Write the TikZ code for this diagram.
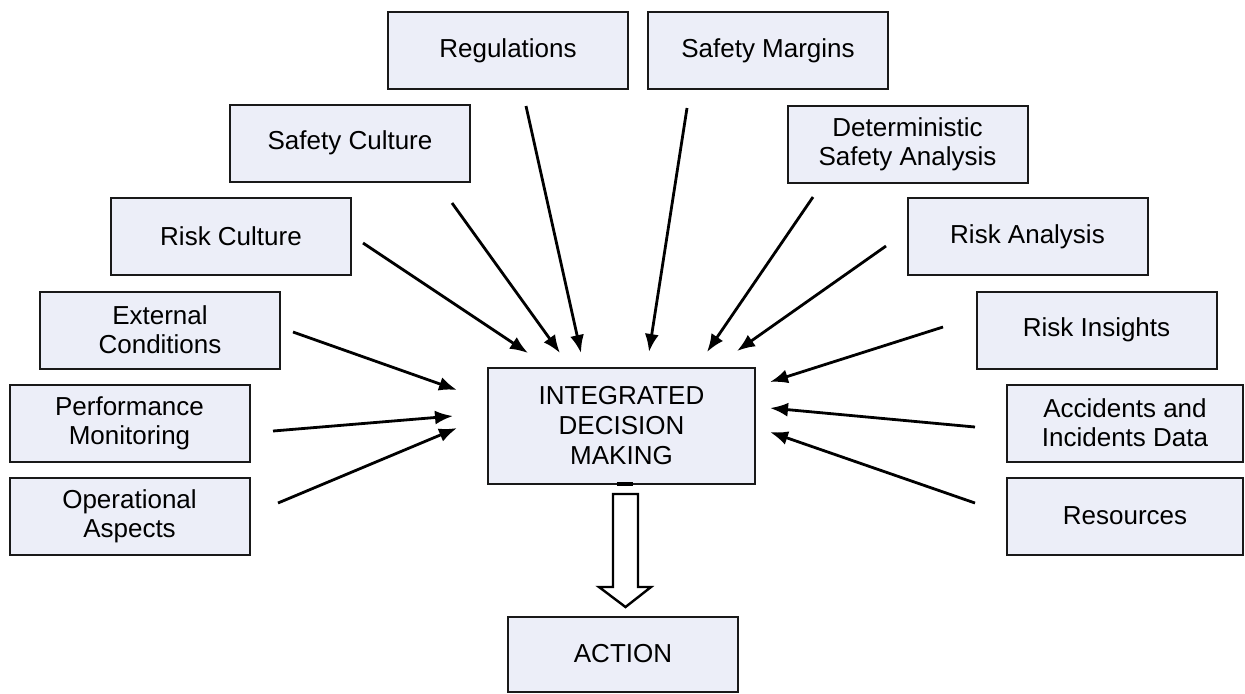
\documentclass[tikz,border=0pt]{standalone}
\usepackage{fontspec}
\setmainfont{Liberation Sans}
\usetikzlibrary{arrows.meta}
\definecolor{boxfill}{HTML}{ECEEF8}
\begin{document}
\begin{tikzpicture}[x=0.5pt,y=-0.5pt,
  box/.style={draw=black!90,line width=1pt,fill=boxfill,minimum width=120pt,minimum height=38.5pt,
    align=center,inner sep=0pt,font=\fontsize{13}{14.5}\selectfont},
  arr/.style={line width=1.4pt,-{Latex[length=9pt,width=7pt]}},
  hollow/.style={draw=black,line width=1.2pt,fill=white}]
\useasboundingbox (0,0) rectangle (1245,693);
% boxes
\node[box] (reg) at (508,50.5) {Regulations};
\node[box] (sm) at (768,50.5) {Safety Margins};
\node[box] (sc) at (350,143) {Safety Culture};
\node[box] (dsa) at (907.5,144.5) {Deterministic\\Safety Analysis};
\node[box] (rc) at (231,236) {Risk Culture};
\node[box] (ra) at (1027.5,236.5) {Risk Analysis};
\node[box] (ec) at (160,330) {External\\Conditions};
\node[box] (pm) at (129.5,423) {Performance\\Monitoring};
\node[box] (oa) at (129.5,516) {Operational\\Aspects};
\node[box] (ri) at (1096.5,330) {Risk Insights};
\node[box,minimum width=118pt] (aid) at (1125,423) {Accidents and\\Incidents Data};
\node[box,minimum width=118pt] (res) at (1125,516) {Resources};
\node[box,minimum width=133.5pt,minimum height=58pt,font=\fontsize{13}{15}\selectfont] (idm) at (621.5,426) {INTEGRATED\\DECISION\\MAKING};
\node[box,minimum width=115pt,minimum height=37.5pt] (act) at (623,654) {ACTION};
% arrow end points
\coordinate (regS) at (526,106); \coordinate (regE) at (581,353);
\coordinate (smS) at (687,108); \coordinate (smE) at (649,352);
\coordinate (scS) at (452,203); \coordinate (scE) at (560,353);
\coordinate (dsaS) at (813,197); \coordinate (dsaE) at (707,352);
\coordinate (rcS) at (363,243); \coordinate (rcE) at (528,353);
\coordinate (raS) at (886,246); \coordinate (raE) at (737,351);
\coordinate (ecS) at (293,332); \coordinate (ecE) at (457,390);
\coordinate (pmS) at (273,431); \coordinate (pmE) at (453,416);
\coordinate (oaS) at (278,503); \coordinate (oaE) at (457,428);
\coordinate (riS) at (943,327); \coordinate (riE) at (770,382);
\coordinate (aidS) at (975,427); \coordinate (aidE) at (770,408);
\coordinate (resS) at (975,503); \coordinate (resE) at (770,432);
\foreach \n in {reg,sm,sc,dsa,rc,ra,ec,pm,oa,ri,aid,res}{\draw[arr] (\n S) -- (\n E);}
% hollow arrow to ACTION
\draw[line width=2pt] (617,484) -- (633,484);
\draw[hollow] (613,494) -- (638,494) -- (638,587) -- (651,587) -- (625.5,607) -- (599,587) -- (613,587) -- cycle;
\end{tikzpicture}
\end{document}
